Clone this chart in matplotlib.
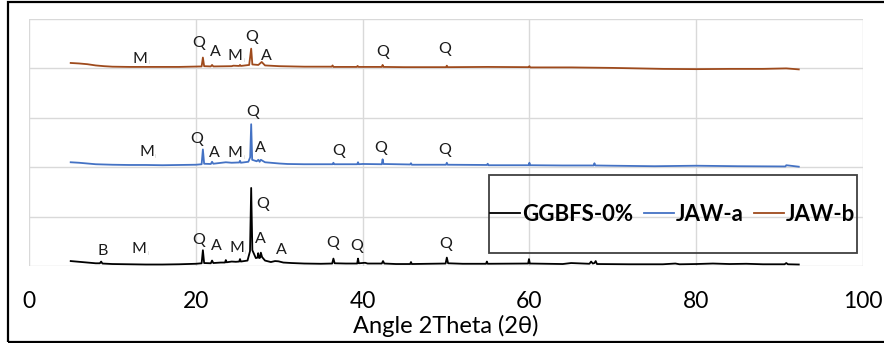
import matplotlib
matplotlib.use('Agg')
import matplotlib.pyplot as plt
from matplotlib.patches import Rectangle

plt.rcParams['font.family'] = ['Lato', 'DejaVu Sans']

# XRD patterns (2theta, stacked intensity)
ggbfs_x = [5.0, 6.0, 7.0, 8.0, 8.5, 8.65, 8.8, 10, 12, 14, 16, 18, 20.0, 20.7, 20.85, 21.0,
           21.8, 21.95, 22.1, 23.0, 23.5, 23.6, 23.7, 24.3, 24.8, 25.2, 25.3, 25.4, 26.2, 26.5,
           26.64, 26.78, 27.2, 27.4, 27.48, 27.6, 27.72, 27.8, 27.95, 28.3, 29.0, 29.5, 29.9,
           30.5, 31.5, 33, 35, 36.35, 36.5, 36.65, 38, 39.35, 39.45, 39.55, 40.3, 40.6, 42.3,
           42.45, 42.6, 44, 45.7, 45.8, 45.9, 49.95, 50.1, 50.25, 52, 54.8, 54.9, 55.0,
           59.85, 59.95, 60.05, 64, 65, 67.2, 67.4, 67.6, 67.8, 67.95, 68.1, 72, 76, 77.5,
           78, 80, 82, 84, 86, 88, 90.6, 90.8, 91.0, 92.3]
ggbfs_y = [100, 85, 70, 55, 55, 90, 50, 40, 35, 30, 30, 35, 45, 55, 320, 60,
           55, 110, 60, 70, 70, 120, 75, 90, 85, 90, 140, 90, 110, 300,
           1580, 320, 160, 170, 260, 160, 170, 270, 180, 110, 80, 100, 95,
           70, 60, 50, 45, 50, 150, 55, 50, 50, 150, 55, 65, 50, 50,
           100, 50, 40, 40, 80, 40, 50, 170, 55, 45, 45, 90, 45,
           50, 140, 50, 40, 60, 45, 90, 50, 60, 100, 40, 35, 35, 50,
           35, 40, 50, 40, 45, 35, 35, 60, 35, 30]

jawa_x = [5.0, 6, 7, 8, 10, 12, 14, 16, 18, 20, 20.7, 20.85, 21.0, 21.8, 21.95, 22.1,
          23.6, 24.3, 25.0, 25.2, 25.3, 25.4, 26.3, 26.52, 26.64, 26.76, 27.3, 27.5, 27.65,
          27.8, 28.3, 30, 31, 33, 35, 36.4, 36.5, 36.6, 38, 39.35, 39.45, 39.55, 40, 42.3,
          42.4, 42.5, 45.7, 45.8, 45.9, 50.0, 50.1, 50.2, 54.9, 55, 55.1, 59.9, 60,
          60.1, 64, 67.7, 67.8, 67.9, 70, 75, 80, 85, 90.7, 90.8, 92.3]
jawa_y = [2100, 2090, 2075, 2060, 2050, 2045, 2045, 2040, 2045, 2050, 2060, 2360,
          2070, 2065, 2110, 2070, 2100, 2090, 2095, 2095, 2130, 2090, 2110, 2200, 2870,
          2150, 2120, 2150, 2110, 2150, 2100, 2075, 2065, 2060, 2060, 2060, 2090, 2060,
          2060, 2060, 2100, 2060, 2065, 2060, 2160, 2065, 2055, 2080, 2050, 2050,
          2090, 2050, 2045, 2070, 2040, 2040, 2090, 2040, 2035, 2035, 2080, 2035,
          2030, 2020, 2030, 2020, 2015, 2040, 2010]

jawb_x = [5.0, 6, 7, 8, 9, 10, 12, 15, 18, 20.7, 20.85, 21.0, 21.8, 21.95, 22.1, 24.3,
          24.5, 25.2, 25.3, 25.4, 26.4, 26.64, 26.78, 27.5, 27.9, 28.3, 30, 33, 36.3,
          36.4, 36.5, 39.3, 39.4, 39.5, 42.3, 42.4, 42.5, 45, 50.0, 50.1, 50.2, 55,
          59.9, 60, 60.1, 65, 70, 76, 80, 84, 88, 90.8, 92.3]
jawb_y = [4110, 4100, 4085, 4060, 4045, 4035, 4030, 4030, 4030, 4040, 4220, 4045,
          4040, 4070, 4040, 4045, 4055, 4050, 4070, 4050, 4070, 4400, 4080, 4070,
          4130, 4060, 4045, 4035, 4035, 4060, 4030, 4030, 4050, 4030, 4030, 4070,
          4030, 4025, 4025, 4055, 4025, 4030, 4025, 4045, 4020, 4020, 4010, 3990,
          3985, 3990, 3990, 4000, 3980]

series_names = ['GGBFS-0%', 'JAW-a', 'JAW-b']
series_colors = ['black', '#4472C4', '#9E4A1C']

# phase labels: text, 2theta, height
ggbfs_labels = [('B', 8.8, 303), ('M', 13.2, 343), ('Q', 20.4, 525), ('A', 22.5, 404),
                ('M', 24.9, 364), ('Q', 28.0, 1253), ('A', 27.8, 545), ('A', 30.3, 323),
                ('Q', 36.4, 465), ('Q', 39.3, 404), ('Q', 50.0, 444)]
jawa_labels = [('M', 14.1, 2303), ('Q', 20.1, 2566), ('A', 22.2, 2283), ('M', 24.7, 2283),
               ('Q', 26.8, 3111), ('A', 27.8, 2384), ('Q', 37.1, 2323), ('Q', 42.2, 2384),
               ('Q', 49.9, 2343)]
jawb_labels = [('M', 13.3, 4200), ('Q', 20.4, 4505), ('A', 22.3, 4323), ('M', 24.7, 4242),
               ('Q', 26.7, 4626), ('A', 28.5, 4242), ('Q', 42.4, 4323), ('Q', 49.8, 4384)]

fig = plt.figure(figsize=(8.84, 3.43), dpi=100)
ax = fig.add_axes([29 / 884, 1 - 266 / 343, 834 / 884, 247 / 343])

for xs, ys, name, c in zip([ggbfs_x, jawa_x, jawb_x], [ggbfs_y, jawa_y, jawb_y],
                           series_names, series_colors):
    ax.plot(xs, ys, color=c, lw=1.3, label=name, zorder=3)

for labels in (ggbfs_labels, jawa_labels, jawb_labels):
    for txt, x, y in labels:
        ax.text(x, y, txt, ha='center', va='center', fontsize=11.5, color='#1a1a1a', zorder=4)
        if txt == 'M':
            ax.annotate('i', (x, y), xytext=(6.5, -3), textcoords='offset points',
                        fontsize=4, color='#c8c8c8', ha='center', va='center')

ax.set_xlim(0, 100)
ax.set_ylim(0, 5000)
ax.set_xticks([0, 20, 40, 60, 80, 100])
ax.set_yticks([0, 1000, 2000, 3000, 4000, 5000])
ax.set_yticklabels([])
ax.grid(True, color='#d9d9d9', lw=1)
ax.set_axisbelow(True)
for s in ax.spines.values():
    s.set_visible(False)
ax.tick_params(length=0, labelsize=16.5, pad=18)
ax.set_xlabel('Angle 2Theta (2θ)', fontsize=17, labelpad=2)

leg = ax.legend(loc='center', bbox_to_anchor=(0.772, 0.21), ncol=3, frameon=False,
                handlelength=1.35, handletextpad=0.1, columnspacing=0.45,
                prop={'size': 16, 'weight': 'bold'})
ax.add_patch(Rectangle((0.5516, 0.0526), 0.4412, 0.3155, transform=ax.transAxes,
                       fill=False, ec='#404040', lw=1.3, zorder=5))

# outer frame
fig.add_artist(Rectangle((8 / 884, 1 / 343), 1.0, 340 / 343, transform=fig.transFigure,
                         fill=False, ec='black', lw=1.6, clip_on=False))

fig.savefig('out.png', dpi=100)
